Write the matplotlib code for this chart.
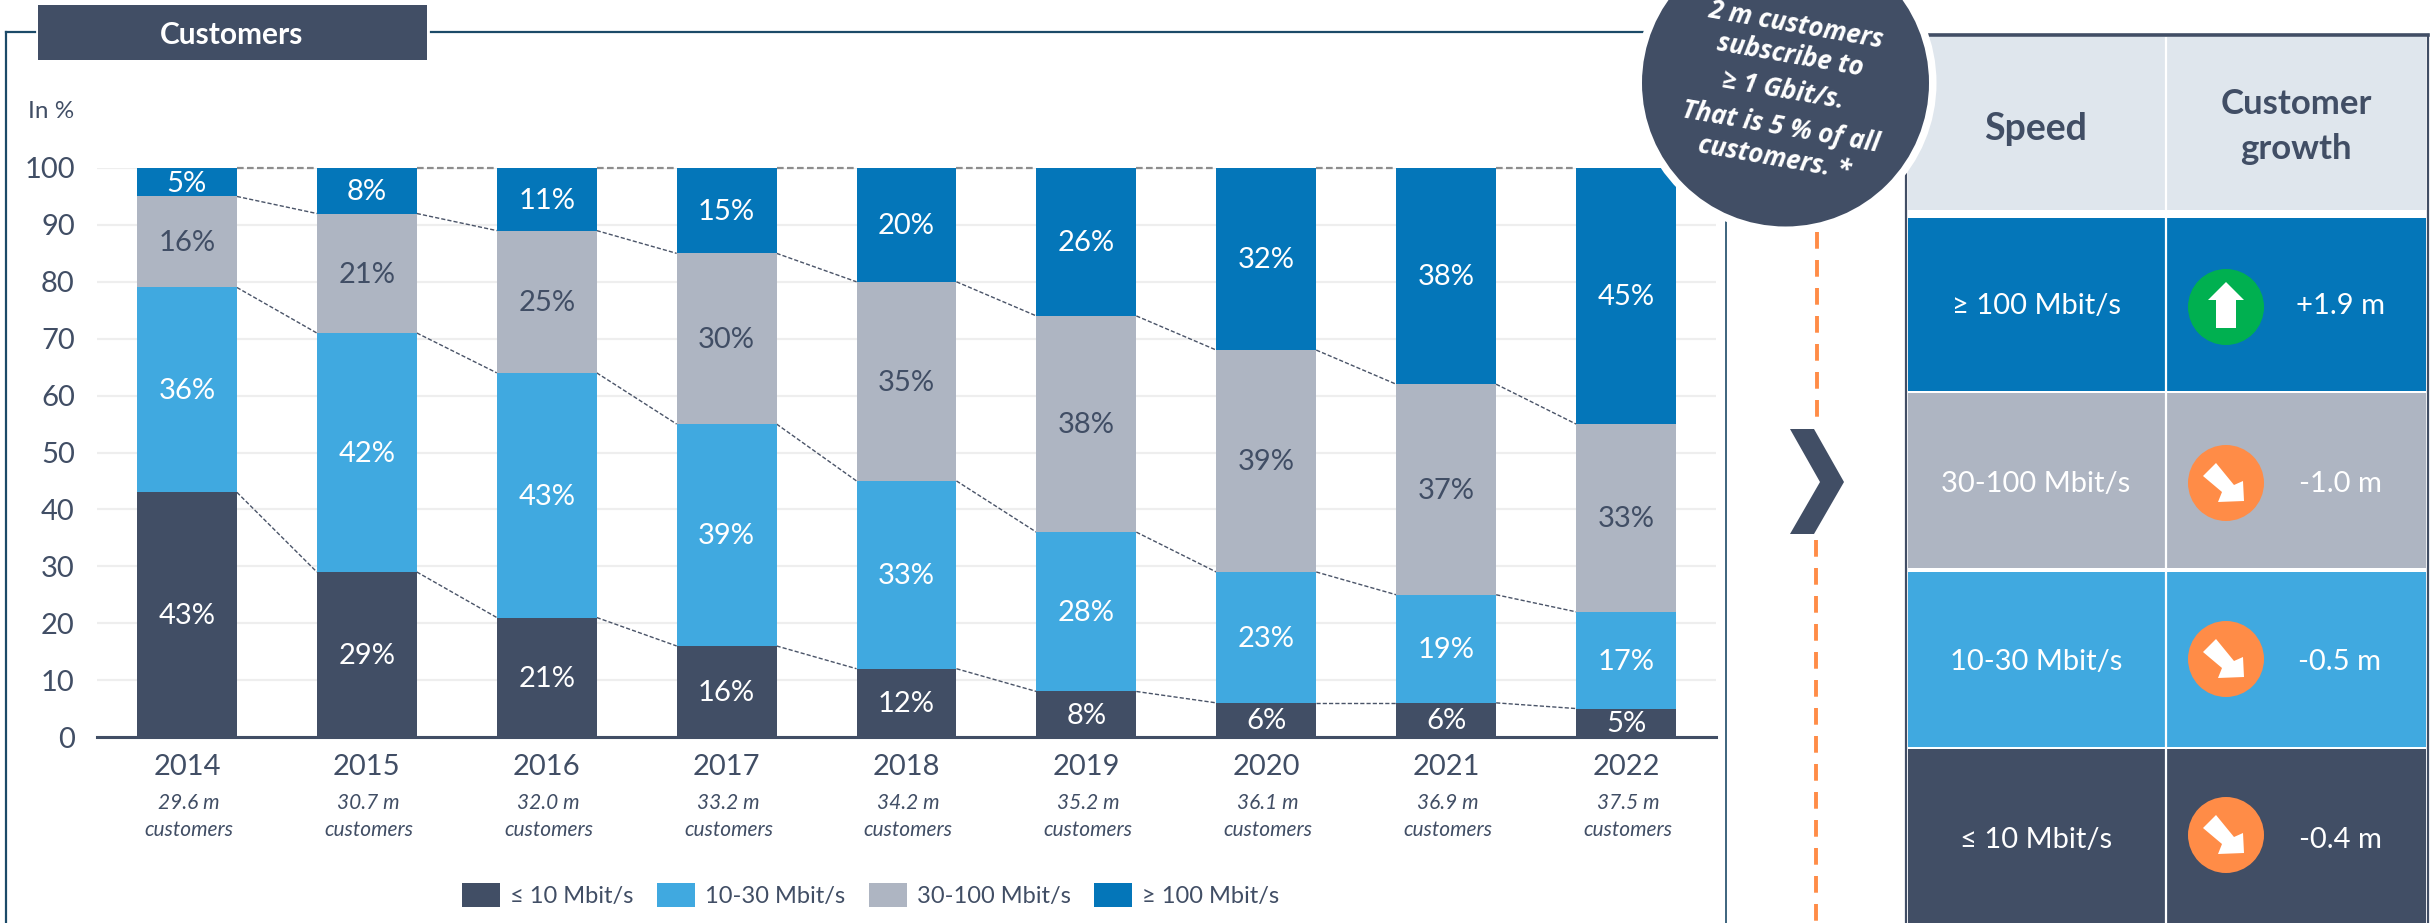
"""
Stacked bars of customers by download speed, with the growth table on the right
"""
import matplotlib
matplotlib.use("Agg")
import matplotlib.pyplot as plt
from matplotlib.patches import Circle, Polygon, Rectangle
from matplotlib.transforms import blended_transform_factory

plt.rcParams['font.family'] = ['Lato', 'DejaVu Sans']

years = ['2014', '2015', '2016', '2017', '2018', '2019', '2020', '2021', '2022']
customers = ['29.6 m', '30.7 m', '32.0 m', '33.2 m', '34.2 m', '35.2 m', '36.1 m', '36.9 m', '37.5 m']
speed_names = ['≤ 10 Mbit/s', '10-30 Mbit/s', '30-100 Mbit/s', '≥ 100 Mbit/s']
below_10 = [43, 29, 21, 16, 12, 8, 6, 6, 5]
from_10_to_30 = [36, 42, 43, 39, 33, 28, 23, 19, 17]
from_30_to_100 = [16, 21, 25, 30, 35, 38, 39, 37, 33]
above_100 = [5, 8, 11, 15, 20, 26, 32, 38, 45]

table_speeds = ['≥ 100 Mbit/s', '30-100 Mbit/s', '10-30 Mbit/s', '≤ 10 Mbit/s']
table_growth = ['+1.9 m', '-1.0 m', '-0.5 m', '-0.4 m']
bubble_lines = ['2 m customers', 'subscribe to', '≥ 1 Gbit/s.', 'That is 5 % of all', 'customers. *']

NAVY = '#414e65'
LIGHT_BLUE = '#40a9e0'
GREY = '#aeb5c2'
BLUE = '#0476b9'
HEADER = '#dfe6ed'
ORANGE = '#ff8c47'
GREEN = '#00b050'
FRAME = '#1c4a68'

W, H = 2433, 923


def draw_bars(ax):
    """
    Draws the stacked bars, their labels and the dashed lines joining the segments
    Args:
        ax: (Axes) the chart axes
    """
    series = [below_10, from_10_to_30, from_30_to_100, above_100]
    colors = [NAVY, LIGHT_BLUE, GREY, BLUE]
    text_colors = ['white', 'white', NAVY, 'white']
    x = list(range(len(years)))
    bottom = [0] * len(years)
    for values, name, color, text_color in zip(series, speed_names, colors, text_colors):
        ax.bar(x, values, width=100 / 180, bottom=bottom, color=color, label=name, zorder=3)
        for i, value in enumerate(values):
            ax.annotate(f'{value}%', (i, bottom[i] + value / 2), xytext=(0, -1), textcoords='offset points',
                        color=text_color, fontsize=21, ha='center', va='center', zorder=4)
        bottom = [b + v for b, v in zip(bottom, values)]
        # joins the top of this segment to the same segment in the next bar
        half = 50 / 180
        is_top = name == speed_names[-1]
        for i in range(len(years) - 1):
            ax.plot([i + half, i + 1 - half], [bottom[i], bottom[i + 1]],
                    color='#8d8d8d' if is_top else '#4a5468',
                    linewidth=1.6 if is_top else 1.0,
                    linestyle=(0, (3, 1.5)), zorder=2, clip_on=False)


def draw_table(bg):
    """
    Draws the speed and customer growth table
    Args:
        bg: (Axes) the overlay axes, in pixels of the picture
    """
    left, middle, right = 1908, 2166, 2426
    center_1, center_2 = 2036, 2296
    bg.add_patch(Rectangle((left, 37), right - left, 173, color=HEADER, lw=0))
    bg.text(center_1, 129, 'Speed', color=NAVY, fontsize=27, fontweight='bold', ha='center', va='center')
    bg.text(center_2, 104, 'Customer', color=NAVY, fontsize=25, fontweight='bold', ha='center', va='center')
    bg.text(center_2, 149, 'growth', color=NAVY, fontsize=25, fontweight='bold', ha='center', va='center')

    tops = [218, 393, 572, 749]
    bottoms = [391, 568, 747, 923]
    text_y = [306, 484, 662, 840]
    icon_y = [307, 483, 659, 835]
    row_colors = [BLUE, GREY, LIGHT_BLUE, NAVY]
    up_arrow = [(0, -25), (18, -7), (10, -7), (10, 21), (-10, 21), (-10, -7), (-18, -7)]
    down_arrow = [(-10, -20), (8, 2), (17, -2), (18, 18), (-8, 19), (-4, 9), (-23, -7)]
    for i, name in enumerate(table_speeds):
        bg.add_patch(Rectangle((left, tops[i]), right - left, bottoms[i] - tops[i], color=row_colors[i], lw=0))
        bg.text(center_1, text_y[i], name, color='white', fontsize=21, ha='center', va='center')
        bg.text(2340, text_y[i], table_growth[i], color='white', fontsize=21, ha='center', va='center')
        growing = table_growth[i].startswith('+')
        bg.add_patch(Circle((2226, icon_y[i]), 38, color=GREEN if growing else ORANGE, lw=0))
        arrow = up_arrow if growing else down_arrow
        bg.add_patch(Polygon([(2226 + px, icon_y[i] + py) for px, py in arrow], color='white', lw=0))
    bg.plot([middle, middle], [37, H], color='white', linewidth=1.6)
    bg.plot([1906, 1906], [35, H], color=NAVY, linewidth=1.6)
    bg.plot([2427.5, 2427.5], [35, H], color=NAVY, linewidth=1.6)
    bg.plot([1906, 2428], [35, 35], color=NAVY, linewidth=2.6)


def draw_decor(bg):
    """
    Draws the frame, the header box, the orange divider, the chevron and the round note
    Args:
        bg: (Axes) the overlay axes, in pixels of the picture
    """
    bg.plot([6, 6], [H, 32], color=FRAME, linewidth=1.6)
    bg.plot([6, 35], [32, 32], color=FRAME, linewidth=1.6)
    bg.plot([431, 1660], [32, 32], color=FRAME, linewidth=1.6)
    bg.plot([1726, 1726], [200, H], color=FRAME, linewidth=1.2)
    bg.add_patch(Rectangle((38, 5), 389, 55, color=NAVY, lw=0))
    bg.text(232, 35, 'Customers', color='white', fontsize=21.5, fontweight='bold', ha='center', va='center')
    bg.text(28, 112, 'In %', color=NAVY, fontsize=17.5, ha='left', va='center')

    bg.plot([1817, 1817], [232, 420], color=ORANGE, linewidth=2.8, linestyle=(0, (4.3, 2.9)))
    bg.plot([1815.5, 1815.5], [540, H], color=ORANGE, linewidth=2.8, linestyle=(0, (4.3, 2.9)))
    bg.add_patch(Polygon([(1790, 429), (1814, 429), (1844, 482), (1814, 534), (1790, 534), (1820, 482)],
                         color=NAVY, lw=0))

    bg.add_patch(Circle((1785.5, 83), 151, color='white', lw=0, zorder=5))
    bg.add_patch(Circle((1785.5, 83), 143.5, color=NAVY, lw=0, zorder=6))
    line_x = [1796, 1790, 1783, 1781, 1774]
    line_y = [25, 55, 90, 127, 158]
    for text, px, py in zip(bubble_lines, line_x, line_y):
        bg.text(px, py, text, color='white', fontsize=18.5, fontweight='bold', fontstyle='italic',
                family=['Open Sans', 'DejaVu Sans'], rotation=-10, rotation_mode='anchor',
                ha='center', va='center', zorder=7)


def main():
    fig = plt.figure(figsize=(W / 100, H / 100), dpi=100)
    ax = fig.add_axes([97 / W, 1 - 737 / H, (1716 - 97) / W, (737 - 168) / H])
    ax.set_xlim(-0.5, len(years) - 0.5)
    ax.set_ylim(0, 100)
    ax.set_yticks(range(0, 101, 10))
    ax.set_xticks(range(len(years)))
    ax.set_xticklabels(years)
    ax.tick_params(axis='both', length=0, labelsize=21, labelcolor=NAVY)
    ax.tick_params(axis='y', pad=16)
    ax.tick_params(axis='x', pad=12)
    ax.grid(axis='y', color='#eeeeee', linewidth=1.6, zorder=0)
    ax.set_axisbelow(True)
    for side in ['top', 'right', 'left']:
        ax.spines[side].set_visible(False)
    ax.spines['bottom'].set_color(NAVY)
    ax.spines['bottom'].set_linewidth(2.2)
    ax.spines['bottom'].set_zorder(5)
    draw_bars(ax)

    bg = fig.add_axes([0, 0, 1, 1], facecolor='none', zorder=3)
    bg.set_xlim(0, W)
    bg.set_ylim(H, 0)
    bg.axis('off')
    draw_table(bg)
    draw_decor(bg)

    # customer counts under the years: x follows the chart, y is in pixels
    trans = blended_transform_factory(ax.transData, bg.transData)
    for i, count in enumerate(customers):
        ax.text(i + 0.01, 803, count, transform=trans, color=NAVY, fontsize=15, fontstyle='italic',
                ha='center', va='center', clip_on=False)
        ax.text(i + 0.01, 830, 'customers', transform=trans, color=NAVY, fontsize=15, fontstyle='italic',
                ha='center', va='center', clip_on=False)

    ax.legend(loc='center', bbox_to_anchor=(871 / W, 1 - 895 / H), bbox_transform=fig.transFigure,
              ncol=4, frameon=False, fontsize=17, labelcolor=NAVY, borderpad=0, borderaxespad=0,
              handlelength=1.61, handleheight=1.23, handletextpad=0.42, columnspacing=1.0)

    fig.savefig('out.png', dpi=100)


if __name__ == "__main__":
    main()
